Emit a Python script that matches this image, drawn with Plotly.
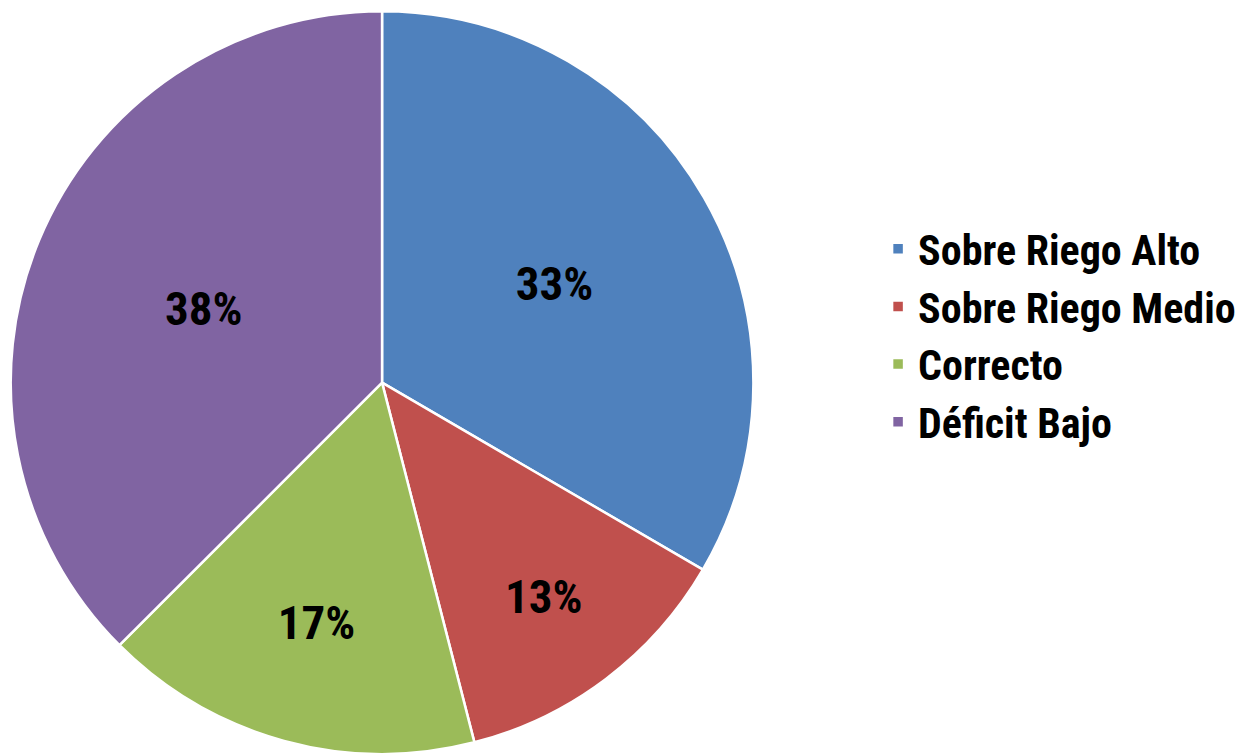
import plotly.graph_objects as go

categories = ["Sobre Riego Alto", "Sobre Riego Medio", "Correcto", "Déficit Bajo"]
shares = [33.4, 12.6, 16.5, 37.5]
colors = ["#4F81BD", "#C0504D", "#9BBB59", "#8064A2"]

FONT = "Liberation Sans Narrow, Roboto Condensed, Arial Narrow, sans-serif"

fig = go.Figure(
    go.Pie(
        labels=categories,
        values=shares,
        sort=False,
        direction="clockwise",
        rotation=0,
        marker=dict(colors=colors, line=dict(color="white", width=2.5)),
        texttemplate="<b>%{percent:.0%}</b>",
        textposition="inside",
        insidetextorientation="horizontal",
        textfont=dict(family=FONT, size=47, color="black"),
        hoverinfo="label+percent",
        domain=dict(x=[0.008, 0.5994], y=[0.0, 0.985]),
    )
)

fig.update_layout(
    width=1258,
    height=754,
    margin=dict(l=0, r=0, t=0, b=0),
    paper_bgcolor="white",
    plot_bgcolor="white",
    uniformtext=dict(minsize=47, mode="show"),
    legend=dict(
        x=0.698,
        y=0.555,
        xanchor="left",
        yanchor="middle",
        font=dict(family=FONT, size=42, color="black", weight="bold"),
        itemwidth=30,
        tracegroupgap=0,
    ),
)

fig.write_html("out.html")
